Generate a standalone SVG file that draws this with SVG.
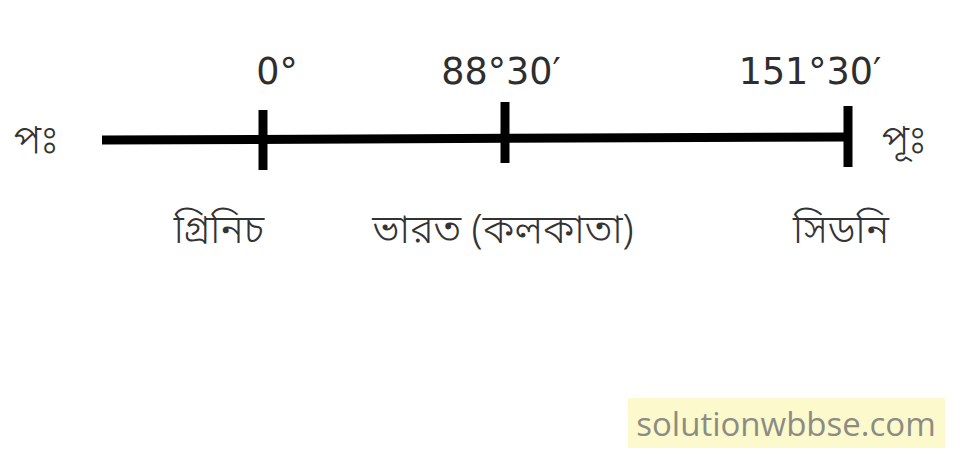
<svg xmlns="http://www.w3.org/2000/svg" width="962" height="473" viewBox="0 0 962 473">
<style>
.num{font-family:"DejaVu Sans","Liberation Sans",sans-serif;font-size:36.5px;fill:#2e2e2e}
.bn{font-family:"Noto Sans Bengali","Noto Sans",sans-serif;font-size:40px;font-weight:300;fill:#333}
.ln{stroke:#000;stroke-width:9;fill:none}
</style>
<rect width="962" height="473" fill="#fff"/>
<g id="connectors">
<line class="ln" x1="102" y1="140" x2="848" y2="137"/>
</g>
<g id="tick-greenwich">
<line class="ln" x1="263" y1="110" x2="263" y2="170"/>
<text class="num" x="277" y="84" text-anchor="middle">0°</text>
<text class="bn" x="219" y="243" text-anchor="middle">গ্রিনিচ</text>
</g>
<g id="tick-kolkata">
<line class="ln" x1="505" y1="102" x2="505" y2="163"/>
<text class="num" x="501" y="84" text-anchor="middle">88°30′</text>
<text class="bn" x="503" y="243" text-anchor="middle">ভারত (কলকাতা)</text>
</g>
<g id="tick-sydney">
<line class="ln" x1="848" y1="106" x2="848" y2="167"/>
<text class="num" x="810" y="84" text-anchor="middle">151°30′</text>
<text class="bn" x="841" y="243" text-anchor="middle">সিডনি</text>
</g>
<g id="west"><text class="bn" x="36" y="153" text-anchor="middle">পঃ</text></g>
<g id="east"><text class="bn" x="904" y="153" text-anchor="middle">পূঃ</text></g>
<g id="watermark">
<rect x="628" y="398" width="317" height="50" fill="#fcf9cc"/>
<text x="786" y="436" text-anchor="middle" font-family="Open Sans, Liberation Sans, sans-serif" font-size="33" fill="#8c8c84">solutionwbbse.com</text>
</g>
</svg>
